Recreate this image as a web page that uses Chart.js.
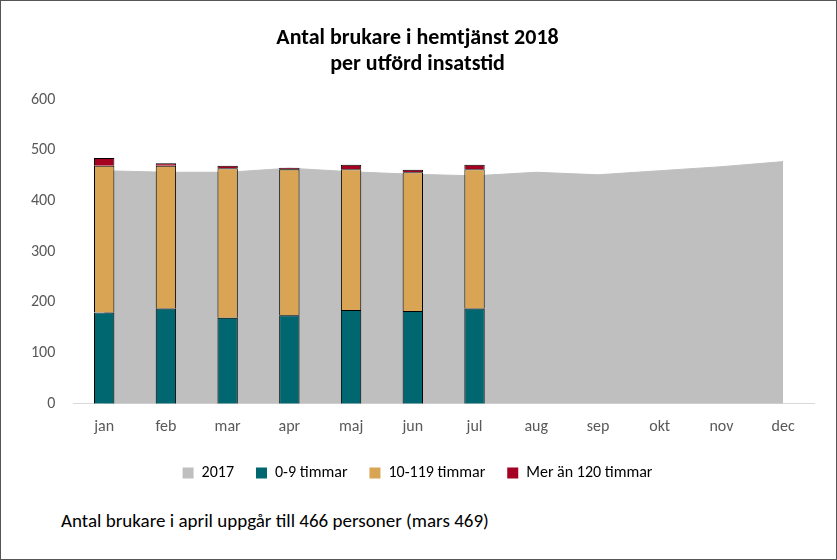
<!DOCTYPE html>
<html><head><meta charset="utf-8">
<script src="https://cdn.jsdelivr.net/npm/chart.js@4"></script>
<style>
html,body{margin:0;padding:0;background:#fff;}
#wrap{position:absolute;left:0;top:0;width:835px;height:558px;border:1px solid #555;background:#fff;}
#c{position:absolute;left:0;top:0;}
#cap{position:absolute;left:60px;top:508px;font-family:Calibri,Carlito,"Liberation Sans",sans-serif;font-size:19px;color:#000;}
</style></head><body>
<div id="wrap"><canvas id="c" width="835" height="490"></canvas><div id="cap">Antal brukare i april uppgår till 466 personer (mars 469)</div></div>
<script>
const categories=['jan','feb','mar','apr','maj','jun','jul','aug','sep','okt','nov','dec'];
const y2017=[460,457,457,465,458,453,450,457,452,460,468,478];
const h0_9=[180,188,170,175,185,183,188];
const h10_119=[290,282,295,288,278,274,275];
const h120=[15,5,5,3,9,5,9];
const yTicks=[0,100,200,300,400,500,600];
const F='Calibri,Carlito,"Liberation Sans",sans-serif';
new Chart(document.getElementById('c'),{
type:'bar',
data:{labels:categories,datasets:[
{type:'line',label:'2017',data:y2017,fill:'origin',backgroundColor:'#BFBFBF',borderColor:'#BFBFBF',borderWidth:1,pointRadius:0,tension:0,stack:'a',order:5},
{label:'0-9 timmar',data:h0_9,backgroundColor:'#006670',borderColor:'#000',borderWidth:1,stack:'b',order:1},
{label:'10-119 timmar',data:h10_119,backgroundColor:'#D9A555',borderColor:'#000',borderWidth:1,stack:'b',order:1},
{label:'Mer än 120 timmar',data:h120,backgroundColor:'#A50021',borderColor:'#000',borderWidth:1,stack:'b',order:1}
]},
options:{responsive:false,animation:false,
layout:{padding:{left:20,right:22,top:10,bottom:0}},
datasets:{bar:{barPercentage:0.33,categoryPercentage:1}},
plugins:{
title:{display:true,text:['Antal brukare i hemtjänst 2018','per utförd insatstid'],font:{family:F,size:22},color:'#000',padding:{top:14,bottom:22},
},
legend:{position:'bottom',labels:{boxWidth:11,boxHeight:11,font:{family:F,size:16},color:'#595959',padding:22,
generateLabels:c=>c.data.datasets.map((d,i)=>({text:d.label,fillStyle:d.backgroundColor,strokeStyle:d.backgroundColor,lineWidth:0,datasetIndex:i}))}},
tooltip:{enabled:false}},
scales:{
x:{stacked:true,offset:true,grid:{display:false},border:{color:'#D9D9D9'},ticks:{font:{family:F,size:16},color:'#595959',padding:6}},
y:{stacked:true,min:0,max:600,afterBuildTicks:a=>{a.ticks=yTicks.map(v=>({value:v}));},grid:{display:false},border:{display:false},ticks:{font:{family:F,size:16},color:'#595959',padding:10}}
}}
});
</script></body></html>
